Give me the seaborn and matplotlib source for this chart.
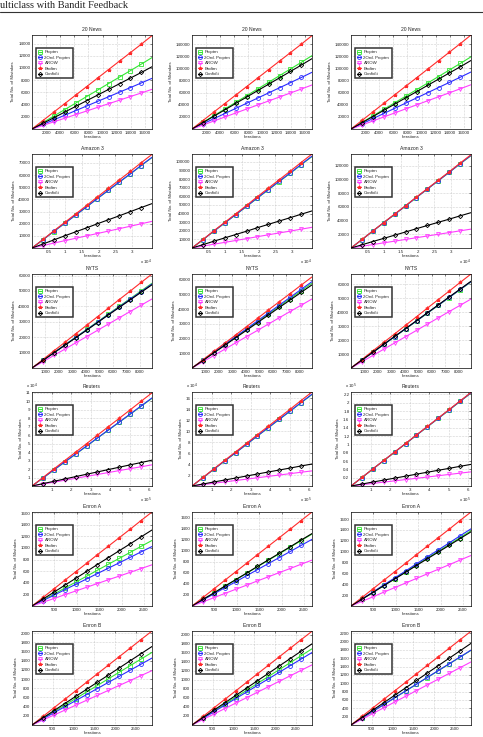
import numpy as np
import pandas as pd
import seaborn as sns
import matplotlib.pyplot as plt
from matplotlib.ticker import FuncFormatter, FixedLocator

# ---- data ----
methods = ["Prcptrn", "2Ord. Prcptrn", "AROW", "Bndtrn", "Confidit"]
titles = ["20 News", "Amazon 3", "NYTS", "Reuters", "Enron A", "Enron B"]

# 20 News
news_iters = [0, 1550, 3100, 4650, 6200, 7750, 9300, 10850, 12400, 13950, 15500, 17000]
news_prcptrn = [[0, 1060, 2130, 3190, 4250, 5320, 6380, 7450, 8510, 9570, 10640, 11700],
                [0, 11000, 22000, 33000, 44000, 55000, 66000, 77000, 88000, 99000, 110000, 121000],
                [0, 10800, 21600, 32500, 43300, 54100, 64900, 75700, 86500, 97400, 108200, 119000]]
news_2ord = [[0, 750, 1510, 2260, 3020, 3770, 4530, 5280, 6040, 6790, 7550, 8300],
             [0, 8500, 17000, 25500, 34000, 42500, 51000, 59500, 68000, 76500, 85000, 93500],
             [0, 8500, 17100, 25600, 34200, 42700, 51300, 59800, 68400, 76900, 85500, 94000]]
news_arow = [[0, 590, 1180, 1770, 2360, 2950, 3550, 4140, 4730, 5320, 5910, 6500],
             [0, 6600, 13200, 19800, 26400, 33000, 39600, 46200, 52800, 59400, 66000, 72600],
             [0, 6600, 13300, 19900, 26500, 33200, 39800, 46500, 53100, 59700, 66400, 73000]]
news_bndtrn = [[0, 1390, 2780, 4170, 5560, 6950, 8350, 9740, 11130, 12520, 13910, 15300],
               [0, 14000, 28000, 42000, 56000, 70000, 84000, 98000, 112000, 126000, 140000, 154000],
               [0, 14100, 28200, 42300, 56400, 70500, 84500, 98600, 112700, 126800, 140900, 155000]]
news_confidit = [[0, 930, 1850, 2780, 3710, 4640, 5560, 6490, 7420, 8350, 9270, 10200],
                 [0, 10500, 21100, 31600, 42200, 52700, 63300, 73800, 84400, 94900, 105500, 116000],
                 [0, 10300, 20500, 30800, 41100, 51400, 61600, 71900, 82200, 92500, 102700, 113000]]
news_xticks = [2000, 4000, 6000, 8000, 10000, 12000, 14000, 16000]
news_yticks = [list(range(2000, 14001, 2000)), list(range(20000, 140001, 20000)),
               list(range(20000, 140001, 20000))]
news_ymax = [15400, 155000, 155000]

# Amazon 3
amazon_iters = [0, 3300, 6500, 9800, 13100, 16400, 19600, 22900, 26200, 29500, 32700, 36000]
amazon_prcptrn = [[0, 6750, 13500, 20300, 27000, 33800, 40600, 47300, 54100, 60900, 67600, 74400],
                  [0, 9640, 19270, 28910, 38550, 48180, 57820, 67450, 77090, 86730, 96360, 106000],
                  [0, 12250, 24450, 36700, 49000, 61300, 73500, 85800, 98100, 110400, 122600, 134500]]
amazon_2ord = [[0, 6800, 13600, 20300, 27100, 33900, 40700, 47500, 54300, 61000, 67800, 74600],
               [0, 9700, 19400, 29000, 38700, 48400, 58100, 67800, 77500, 87100, 96800, 106500],
               [0, 12300, 24500, 36800, 49100, 61400, 73600, 85900, 98200, 110500, 122700, 135000]]
amazon_arow = [[0, 2000, 4000, 6000, 8000, 10000, 11900, 13900, 15900, 17900, 19900, 21900],
               [0, 2200, 4400, 6500, 8700, 10900, 13100, 15300, 17500, 19600, 21800, 24000],
               [0, 2500, 5000, 7500, 10000, 12500, 15000, 17500, 20000, 22500, 25000, 27500]]
amazon_bndtrn = [[0, 7000, 14000, 21000, 28000, 35000, 42000, 49000, 56000, 63000, 70000, 77000],
                 [0, 9900, 19800, 29700, 39600, 49500, 59500, 69400, 79300, 89200, 99100, 109000],
                 [0, 12400, 24700, 37100, 49500, 61800, 74200, 86500, 98900, 111300, 123600, 136000]]
amazon_confidit = [[0, 3300, 6600, 10000, 13300, 16600, 19900, 23200, 26500, 29900, 33200, 36500],
                   [0, 3900, 7800, 11700, 15600, 19500, 23500, 27400, 31300, 35200, 39100, 43000],
                   [0, 4700, 9400, 14000, 18700, 23400, 28100, 32800, 37500, 42100, 46800, 51500]]
amazon_xticks = [5000, 10000, 15000, 20000, 25000, 30000]
amazon_yticks = [list(range(10000, 70001, 10000)), list(range(10000, 100001, 10000)),
                 list(range(20000, 120001, 20000))]
amazon_ymax = [77300, 109000, 137000]

# NYTS
nyts_iters = [0, 810, 1620, 2430, 3240, 4050, 4860, 5660, 6470, 7280, 8090, 8900]
nyts_prcptrn = [[0, 5000, 10000, 15000, 20000, 25000, 30000, 35000, 40000, 45000, 50000, 55000],
                [0, 5300, 10500, 15800, 21000, 26300, 31500, 36800, 42000, 47300, 52500, 57800],
                [0, 5600, 11200, 16900, 22500, 28100, 33700, 39300, 44900, 50600, 56200, 61800]]
nyts_2ord = [[0, 4950, 9910, 14860, 19820, 24770, 29730, 34680, 39640, 44590, 49550, 54500],
             [0, 5300, 10700, 16000, 21400, 26700, 32100, 37400, 42800, 48100, 53500, 58800],
             [0, 5600, 11300, 16900, 22500, 28200, 33800, 39500, 45100, 50700, 56400, 62000]]
nyts_arow = [[0, 4070, 8150, 12220, 16290, 20360, 24440, 28510, 32580, 36650, 40730, 44800],
             [0, 4300, 8500, 12800, 17100, 21400, 25600, 29900, 34200, 38500, 42700, 47000],
             [0, 4500, 9000, 13500, 18000, 22500, 27000, 31500, 36000, 40500, 45000, 49500]]
nyts_bndtrn = [[0, 5500, 11100, 16600, 22200, 27700, 33300, 38800, 44400, 49900, 55500, 61000],
               [0, 5600, 11300, 16900, 22500, 28200, 33800, 39500, 45100, 50700, 56400, 62000],
               [0, 6100, 12300, 18400, 24500, 30700, 36800, 43000, 49100, 55200, 61400, 67500]]
nyts_confidit = [[0, 4900, 9800, 14700, 19600, 24500, 29500, 34400, 39300, 44200, 49100, 54000],
                 [0, 5100, 10300, 15400, 20600, 25700, 30900, 36000, 41200, 46300, 51500, 56600],
                 [0, 5700, 11300, 17000, 22700, 28300, 34000, 39600, 45300, 51000, 56600, 62300]]
nyts_xticks = [1000, 2000, 3000, 4000, 5000, 6000, 7000, 8000]
nyts_yticks = [list(range(10000, 60001, 10000))] * 3
nyts_ymax = [61000, 64000, 67500]

# Reuters
reuters_iters = [0, 56000, 111000, 167000, 223000, 279000, 334000, 390000, 446000, 502000, 557000, 613000]
reuters_prcptrn = [[0, 9400, 18800, 28200, 37600, 47000, 56500, 65900, 75300, 84700, 94100, 103500],
                   [0, 15100, 30300, 45400, 60500, 75700, 90800, 105900, 121100, 136200, 151300, 166500],
                   [0, 20300, 40600, 61000, 81300, 101600, 121900, 142200, 162500, 182900, 203200, 223500]]
reuters_2ord = [[0, 9500, 18900, 28400, 37800, 47300, 56700, 66200, 75600, 85100, 94500, 104000],
                [0, 15200, 30400, 45500, 60700, 75900, 91100, 106300, 121500, 136600, 151800, 167000],
                [0, 20400, 40700, 61100, 81500, 101800, 122200, 142500, 162900, 183300, 203600, 224000]]
reuters_arow = [[0, 2300, 4500, 6800, 9100, 11400, 13600, 15900, 18200, 20500, 22700, 25000],
                [0, 2500, 5000, 7500, 10000, 12500, 15000, 17500, 20000, 22500, 25000, 27500],
                [0, 3100, 6200, 9300, 12400, 15500, 18500, 21600, 24700, 27800, 30900, 34000]]
reuters_bndtrn = [[0, 10000, 20000, 30000, 40000, 50000, 60000, 70000, 80000, 90000, 100000, 110000],
                  [0, 15500, 31100, 46600, 62200, 77700, 93300, 108800, 124400, 139900, 155500, 171000],
                  [0, 20500, 40900, 61400, 81800, 102300, 122700, 143200, 163600, 184100, 204500, 225000]]
reuters_confidit = [[0, 2800, 5500, 8300, 11100, 13900, 16600, 19400, 22200, 25000, 27700, 30500],
                    [0, 3600, 7300, 10900, 14500, 18200, 21800, 25500, 29100, 32700, 36400, 40000],
                    [0, 4700, 9500, 14200, 18900, 23600, 28400, 33100, 37800, 42500, 47300, 52000]]
reuters_xticks = [100000, 200000, 300000, 400000, 500000, 600000]
reuters_yticks = [list(range(10000, 110001, 10000)), list(range(20000, 160001, 20000)),
                  list(range(20000, 220001, 20000))]
reuters_ymax = [111000, 171000, 226000]

# Enron A
enrona_iters = [0, 245, 490, 730, 975, 1220, 1460, 1705, 1950, 2195, 2435, 2680]
enrona_prcptrn = [[0, 103, 205, 308, 411, 514, 616, 719, 822, 925, 1027, 1130],
                  [0, 118, 236, 355, 473, 591, 709, 827, 945, 1064, 1182, 1300],
                  [0, 126, 252, 378, 504, 630, 755, 881, 1007, 1133, 1259, 1385]]
enrona_2ord = [[0, 93, 186, 280, 373, 466, 559, 652, 745, 839, 932, 1025],
               [0, 110, 219, 329, 438, 548, 657, 767, 876, 986, 1095, 1205],
               [0, 129, 258, 387, 516, 645, 775, 904, 1033, 1162, 1291, 1420]]
enrona_arow = [[0, 65, 129, 194, 258, 323, 387, 452, 516, 581, 645, 710],
               [0, 75, 151, 226, 302, 377, 453, 528, 604, 679, 755, 830],
               [0, 85, 169, 254, 338, 423, 507, 592, 676, 761, 845, 930]]
enrona_bndtrn = [[0, 147, 295, 442, 589, 736, 884, 1031, 1178, 1325, 1473, 1620],
                 [0, 155, 309, 464, 618, 773, 927, 1082, 1236, 1391, 1545, 1700],
                 [0, 157, 315, 472, 629, 786, 944, 1101, 1258, 1415, 1573, 1730]]
enrona_confidit = [[0, 119, 238, 357, 476, 595, 715, 834, 953, 1072, 1191, 1310],
                   [0, 119, 238, 357, 476, 595, 715, 834, 953, 1072, 1191, 1310],
                   [0, 124, 248, 372, 496, 620, 745, 869, 993, 1117, 1241, 1365]]
enrona_xticks = [500, 1000, 1500, 2000, 2500]
enrona_yticks = [list(range(200, 1601, 200))] * 3
enrona_ymax = [1620, 1700, 1730]

# Enron B
enronb_iters = [0, 263, 525, 788, 1051, 1314, 1576, 1839, 2102, 2365, 2627, 2890]
enronb_prcptrn = [[0, 144, 288, 432, 576, 720, 863, 1007, 1151, 1295, 1439, 1583],
                  [0, 154, 307, 461, 615, 768, 922, 1075, 1229, 1383, 1536, 1690],
                  [0, 163, 325, 488, 651, 814, 976, 1139, 1302, 1465, 1627, 1790]]
enronb_2ord = [[0, 133, 265, 398, 531, 664, 796, 929, 1062, 1195, 1327, 1460],
               [0, 146, 292, 439, 585, 731, 877, 1023, 1169, 1316, 1462, 1608],
               [0, 163, 327, 490, 653, 816, 980, 1143, 1306, 1469, 1633, 1796]]
enronb_arow = [[0, 108, 216, 323, 431, 539, 647, 755, 863, 970, 1078, 1186],
               [0, 121, 242, 364, 485, 606, 727, 848, 969, 1091, 1212, 1333],
               [0, 138, 275, 413, 550, 688, 825, 963, 1100, 1238, 1375, 1513]]
enronb_bndtrn = [[0, 186, 373, 559, 745, 932, 1118, 1305, 1491, 1677, 1864, 2050],
                 [0, 189, 378, 567, 756, 945, 1135, 1324, 1513, 1702, 1891, 2080],
                 [0, 205, 409, 614, 818, 1023, 1227, 1432, 1636, 1841, 2045, 2250]]
enronb_confidit = [[0, 156, 311, 467, 623, 778, 934, 1089, 1245, 1401, 1556, 1712],
                   [0, 164, 327, 491, 655, 818, 982, 1145, 1309, 1473, 1636, 1800],
                   [0, 178, 356, 534, 712, 890, 1068, 1246, 1424, 1602, 1780, 1958]]
enronb_xticks = [500, 1000, 1500, 2000, 2500]
enronb_yticks = [list(range(200, 2001, 200)), list(range(200, 2001, 200)), list(range(200, 2201, 200))]
enronb_ymax = [2050, 2085, 2255]

rows = [
    (news_iters, [news_prcptrn, news_2ord, news_arow, news_bndtrn, news_confidit],
     news_xticks, news_yticks, news_ymax, 0, [0, 0, 0]),
    (amazon_iters, [amazon_prcptrn, amazon_2ord, amazon_arow, amazon_bndtrn, amazon_confidit],
     amazon_xticks, amazon_yticks, amazon_ymax, 4, [0, 0, 0]),
    (nyts_iters, [nyts_prcptrn, nyts_2ord, nyts_arow, nyts_bndtrn, nyts_confidit],
     nyts_xticks, nyts_yticks, nyts_ymax, 0, [0, 0, 0]),
    (reuters_iters, [reuters_prcptrn, reuters_2ord, reuters_arow, reuters_bndtrn, reuters_confidit],
     reuters_xticks, reuters_yticks, reuters_ymax, 5, [4, 4, 5]),
    (enrona_iters, [enrona_prcptrn, enrona_2ord, enrona_arow, enrona_bndtrn, enrona_confidit],
     enrona_xticks, enrona_yticks, enrona_ymax, 0, [0, 0, 0]),
    (enronb_iters, [enronb_prcptrn, enronb_2ord, enronb_arow, enronb_bndtrn, enronb_confidit],
     enronb_xticks, enronb_yticks, enronb_ymax, 0, [0, 0, 0]),
]

colors = ["#33e633", "#2a2aff", "#ff3dff", "#ff2a2a", "#000000"]
markers = ["s", "o", "v", "*", "D"]
filled = [False, False, False, True, False]
msizes = [2.6, 2.8, 2.8, 2.6, 2.2]

sns.set_style("white")
plt.rcParams['font.family'] = ['Liberation Sans', 'DejaVu Sans']

W, H = 483, 737
fig = plt.figure(figsize=(W / 100, H / 100), dpi=100)

# page header
fig.text(0.0, 1 - 8 / H, "ulticlass with Bandit Feedback", family="Liberation Serif",
         fontsize=7.5, va="baseline", ha="left", color="#222222")
fig.add_artist(plt.Line2D([0, 1], [1 - 12 / H, 1 - 12 / H], color="#333333", lw=0.8))

col_left = [32, 192, 351]
row_top = [35, 154, 274, 392, 512, 631]
aw, ah = 120, 94

fs = 3.2


def fmt(e):
    return FuncFormatter(lambda v, _: f"{v / 10 ** e:g}")


for r, (iters, series, xt, yts, ymaxs, xexp, yexps) in enumerate(rows):
    for c in range(3):
        ax = fig.add_axes([col_left[c] / W, 1 - (row_top[r] + ah) / H, aw / W, ah / H])
        for k in range(5):
            ys = series[k][c]
            sns.lineplot(x=iters, y=ys, ax=ax, color=colors[k], lw=0.8,
                         marker=markers[k], markersize=msizes[k],
                         markerfacecolor=colors[k] if filled[k] else "none",
                         markeredgecolor=colors[k], markeredgewidth=0.6,
                         markevery=list(range(1, len(iters) - 1)),
                         label=methods[k], legend=False)
        ax.set_xlim(0, iters[-1])
        ax.set_ylim(0, ymaxs[c])
        ax.xaxis.set_major_locator(FixedLocator(xt))
        ax.yaxis.set_major_locator(FixedLocator(yts[c]))
        ax.xaxis.set_major_formatter(fmt(xexp))
        ax.yaxis.set_major_formatter(fmt(yexps[c]))
        ax.grid(True, ls=":", color="#aaaaaa", lw=0.4)
        ax.tick_params(labelsize=fs, length=1.5, width=0.4, pad=1.2, direction="in",
                       top=True, right=True)
        for s in ax.spines.values():
            s.set_linewidth(0.5)
            s.set_color("black")
        ax.set_title(titles[r], fontsize=3.6, pad=3)
        ax.set_xlabel("Iterations", fontsize=fs, labelpad=0)
        ax.set_ylabel("Total No. of Mistakes", fontsize=fs, labelpad=2)
        if xexp:
            ax.text(1.0, -0.1, f"x 10$^{xexp}$", transform=ax.transAxes,
                    ha="right", va="top", fontsize=fs)
        if yexps[c]:
            ax.text(0.0, 1.015, f"x 10$^{yexps[c]}$", transform=ax.transAxes,
                    ha="center", va="bottom", fontsize=fs)
        leg = ax.legend(loc="upper left", bbox_to_anchor=(0.03, 0.86), borderaxespad=0,
                        fontsize=fs, frameon=True, fancybox=False, handlelength=0.9,
                        handletextpad=0.6, labelspacing=0.3, borderpad=0.5)
        leg.get_frame().set_edgecolor("black")
        leg.get_frame().set_linewidth(1.1)

fig.savefig("out.png", dpi=100)
